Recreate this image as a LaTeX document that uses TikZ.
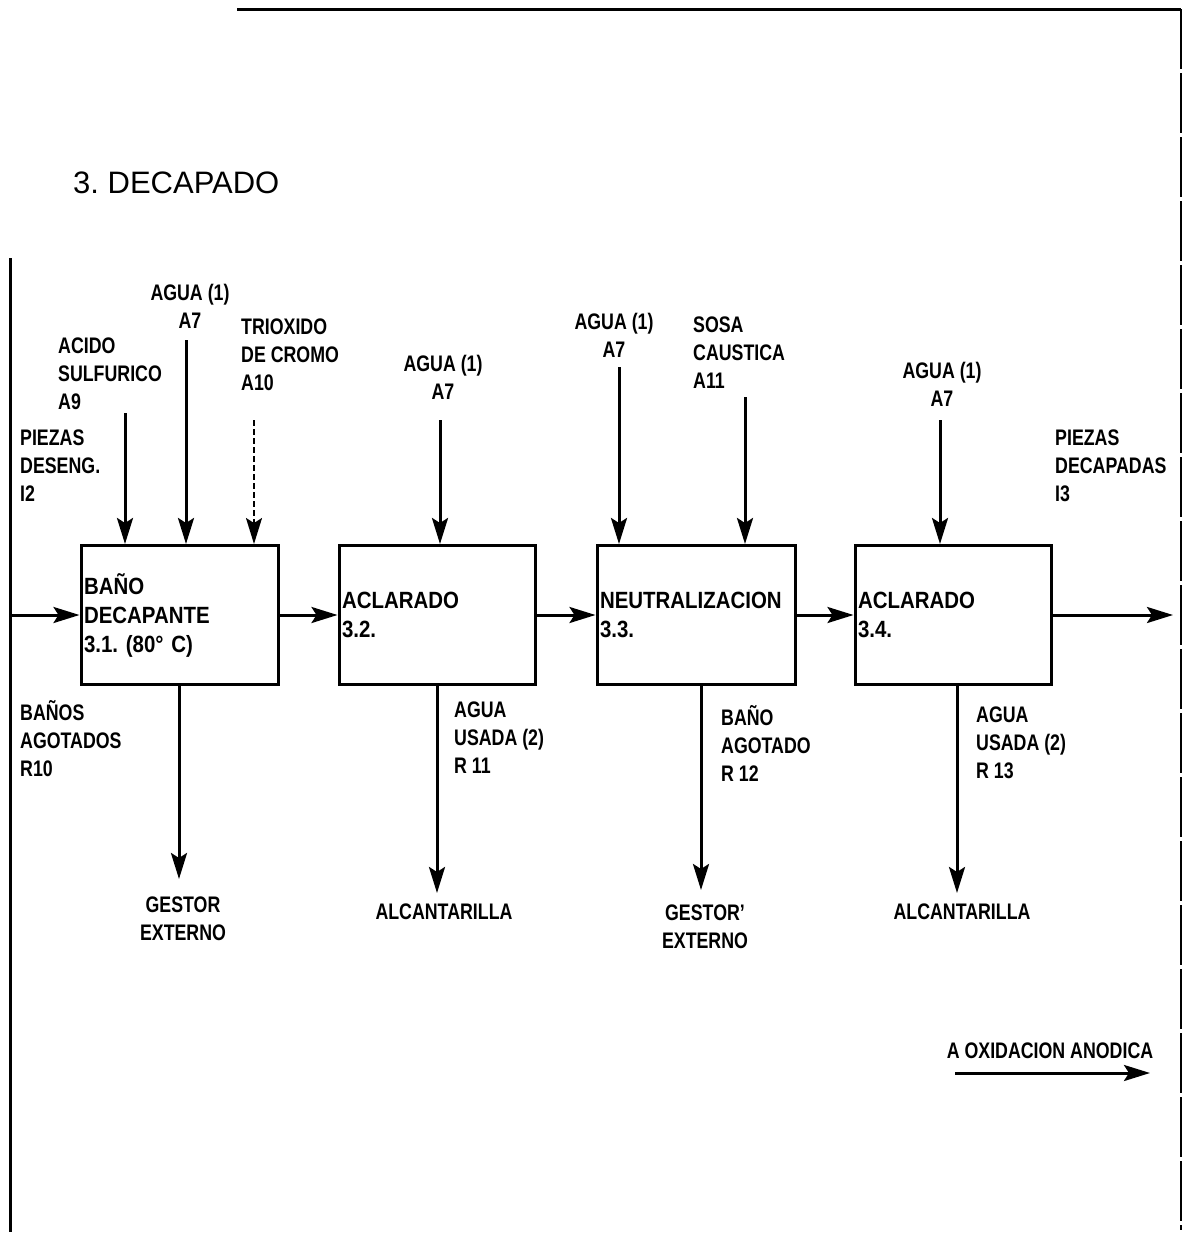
\documentclass[tikz,border=0pt]{standalone}
\usepackage{fontspec}
\setmainfont{Liberation Sans}
\newfontfamily\labfont[FakeStretch=0.79]{Liberation Sans Bold}
\newfontfamily\boxfont[FakeStretch=0.87]{Liberation Sans Bold}
\usetikzlibrary{arrows.meta}
\frenchspacing
\begin{document}
\begin{tikzpicture}[x=1pt,y=-1pt,
  lab/.style={font=\labfont\fontsize{22.5}{28}\selectfont, inner sep=0pt, align=left, anchor=west},
  labc/.style={lab, align=center, anchor=center},
  procbox/.style={draw, line width=3pt, minimum height=139pt, text width=#1, inner sep=3pt, align=left,
    font=\boxfont\fontsize{23.5}{29}\selectfont},
  flow/.style={line width=3pt, -{Stealth[length=26pt,width=16pt,inset=5pt]}},
  frameline/.style={line width=3pt}
]
\useasboundingbox (0,0) rectangle (1183,1234);
% frame
\coordinate (ftl) at (237,9);
\coordinate (ftr) at (1181,9);
\coordinate (fbr) at (1181,1230);
\coordinate (flt) at (10,258);
\coordinate (flb) at (10,1232);
\draw[frameline] (ftl) -- (ftr);
\draw[line width=1.3pt, dash pattern=on 60pt off 4pt] (ftr) -- (fbr);
\draw[frameline] (flt) -- (flb);

\node[font=\fontsize{31}{36}\selectfont, anchor=west, inner sep=0pt] (title) at (73,183) {3. DECAPADO};

% boxes
\node[procbox=191pt] (b1) at (179.5,615) {BAÑO\\DECAPANTE\\3.1. (80° C)};
\node[procbox=190pt] (b2) at (437,615) {ACLARADO\\3.2.};
\node[procbox=192pt] (b3) at (696,615) {NEUTRALIZACION\\3.3.};
\node[procbox=190pt] (b4) at (953,615) {ACLARADO\\3.4.};

% main flow
\coordinate (inL) at (10,615);
\coordinate (outR) at (1173,615);
\draw[flow] (inL) -- (b1.west);
\draw[flow] (b1.east) -- (b2.west);
\draw[flow] (b2.east) -- (b3.west);
\draw[flow] (b3.east) -- (b4.west);
\draw[flow] (b4.east) -- (outR);

% top labels
\node[lab] (acido) at (58,374) {ACIDO\\SULFURICO\\A9};
\node[labc] (agua1) at (190,306) {AGUA (1)\\A7};
\node[lab] (triox) at (241,355) {TRIOXIDO\\DE CROMO\\A10};
\node[lab] (piezas1) at (20,466) {PIEZAS\\DESENG.\\I2};
\node[labc] (agua2) at (443,377) {AGUA (1)\\A7};
\node[labc] (agua3) at (614,335) {AGUA (1)\\A7};
\node[lab] (sosa) at (693,353) {SOSA\\CAUSTICA\\A11};
\node[labc] (agua4) at (942,384) {AGUA (1)\\A7};
\node[lab] (piezas2) at (1055,466) {PIEZAS\\DECAPADAS\\I3};

% top arrows
\coordinate (sA9) at (125,413);
\coordinate (sA7a) at (186,340);
\coordinate (sA10) at (254,420);
\coordinate (sA7b) at (440,420);
\coordinate (sA7c) at (619,367);
\coordinate (sA11) at (745,397);
\coordinate (sA7d) at (940,420);
\draw[flow] (sA9) -- (sA9 |- b1.north);
\draw[flow] (sA7a) -- (sA7a |- b1.north);
\draw[flow, line width=1.8pt, dash pattern=on 6pt off 3pt] (sA10) -- (sA10 |- b1.north);
\draw[flow] (sA7b) -- (sA7b |- b2.north);
\draw[flow] (sA7c) -- (sA7c |- b3.north);
\draw[flow] (sA11) -- (sA11 |- b3.north);
\draw[flow] (sA7d) -- (sA7d |- b4.north);

% bottom labels
\node[lab] (r10) at (20,739) {BAÑOS\\AGOTADOS\\R10};
\node[lab] (r11) at (454,738) {AGUA\\USADA (2)\\R 11};
\node[lab] (r12) at (721,743) {BAÑO\\AGOTADO\\R 12};
\node[lab] (r13) at (976,743) {AGUA\\USADA (2)\\R 13};
\node[labc] (gest1) at (183,919) {GESTOR\\EXTERNO};
\node[labc] (alc1) at (444,912) {ALCANTARILLA};
\node[labc] (gest2) at (705,927) {GESTOR’\\EXTERNO};
\node[labc] (alc2) at (962,912) {ALCANTARILLA};

% bottom arrows
\coordinate (e1) at (179,879);
\coordinate (e2) at (437,893);
\coordinate (e3) at (701,890);
\coordinate (e4) at (957,893);
\draw[flow] (e1 |- b1.south) -- (e1);
\draw[flow] (e2 |- b2.south) -- (e2);
\draw[flow] (e3 |- b3.south) -- (e3);
\draw[flow] (e4 |- b4.south) -- (e4);

% a oxidacion anodica
\node[labc] (oxid) at (1050,1051) {A OXIDACION ANODICA};
\coordinate (ox1) at (955,1073);
\coordinate (ox2) at (1150,1073);
\draw[flow] (ox1) -- (ox2);
\end{tikzpicture}
\end{document}
